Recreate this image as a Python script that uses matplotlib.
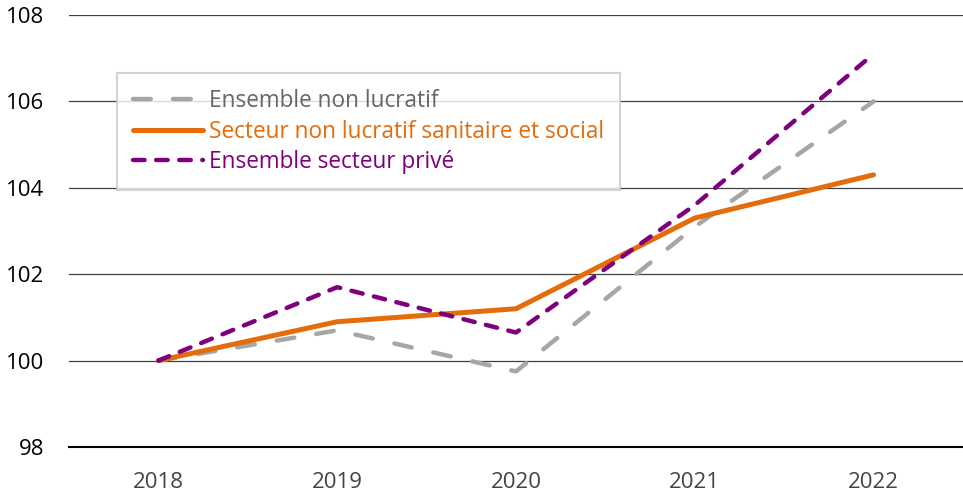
import matplotlib
matplotlib.use("Agg")
import matplotlib.pyplot as plt

plt.rcParams['font.family'] = ['Open Sans', 'DejaVu Sans']

years = ['2018', '2019', '2020', '2021', '2022']
ensemble_non_lucratif = [100.0, 100.7, 99.75, 103.1, 106.0]
secteur_sanitaire_social = [100.0, 100.9, 101.2, 103.3, 104.3]
ensemble_prive = [100.0, 101.7, 100.65, 103.6, 107.1]

labels = ['Ensemble non lucratif',
          'Secteur non lucratif sanitaire et social',
          'Ensemble secteur privé']
colors = ['#A6A6A6', '#E46C0A', '#7F007F']
text_colors = ['#666666', '#E46C0A', '#7F007F']

fig = plt.figure(figsize=(9.63, 5), dpi=100)
ax = fig.add_axes([69 / 963, 1 - 447 / 500, 894 / 963, 432 / 500])

x = range(len(years))
ax.plot(x, ensemble_non_lucratif, color=colors[0], lw=3.2, ls=(0, (4, 5)),
        dash_capstyle='round', label=labels[0], zorder=3)
ax.plot(x, secteur_sanitaire_social, color=colors[1], lw=3.6,
        solid_capstyle='round', label=labels[1], zorder=4)
ax.plot(x, ensemble_prive, color=colors[2], lw=3.2, ls=(0, (2.6, 2.6)),
        dash_capstyle='round', label=labels[2], zorder=5)

ax.set_xlim(-0.5, 4.5)
ax.set_ylim(98, 108)
ax.set_yticks([98, 100, 102, 104, 106, 108])
ax.set_xticks(list(x))
ax.set_xticklabels(years)
ax.yaxis.grid(True, color='#404040', lw=0.9)
ax.set_axisbelow(True)
for s in ['left', 'right', 'top']:
    ax.spines[s].set_visible(False)
ax.spines['bottom'].set_color('black')
ax.spines['bottom'].set_linewidth(1.5)
ax.tick_params(axis='both', length=0, labelsize=16, colors='#222222')
ax.tick_params(axis='y', pad=18)
ax.tick_params(axis='x', pad=18, colors='#444444')
for t in ax.get_yticklabels():
    t.set_color('black')

leg = ax.legend(loc='upper left', bbox_to_anchor=(0.054, 0.866), borderaxespad=0,
                fontsize=16.3, frameon=True, fancybox=False, handlelength=3.1,
                handletextpad=0.25, labelspacing=0.3, borderpad=0.7)
leg.get_frame().set_edgecolor('#C8C8C8')
leg.get_frame().set_linewidth(1.5)
for t, c in zip(leg.get_texts(), text_colors):
    t.set_color(c)

fig.savefig('out.png', dpi=100)
